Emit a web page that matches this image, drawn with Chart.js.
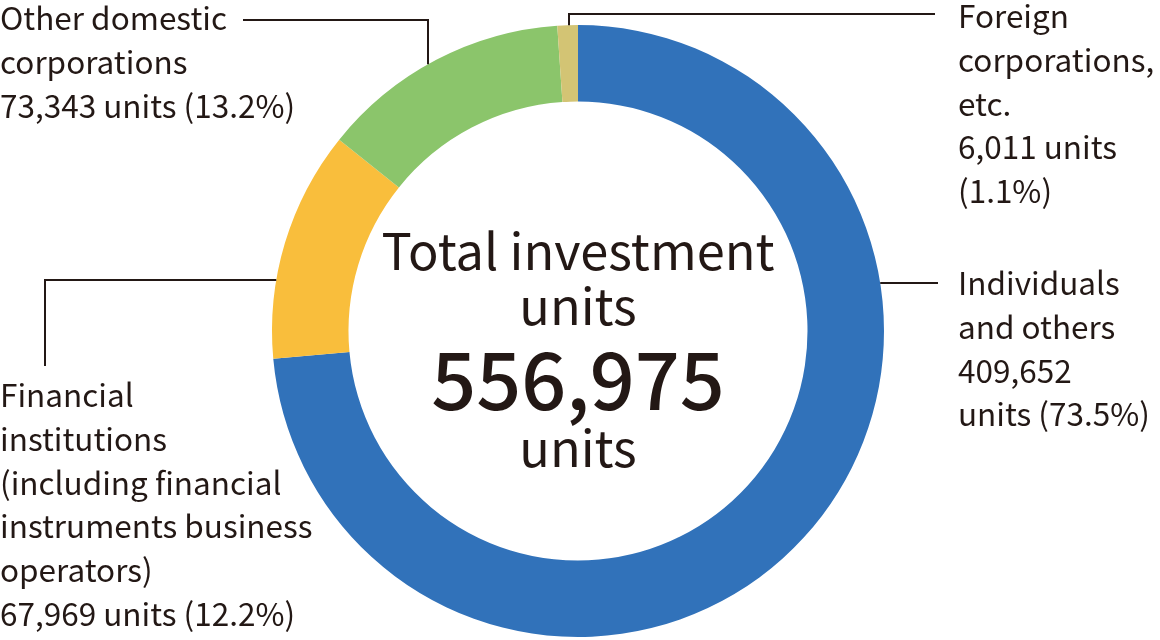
<!DOCTYPE html>
<html>
<head>
<meta charset="utf-8">
<script src="https://cdn.jsdelivr.net/npm/chart.js@4.4.1/dist/chart.umd.min.js"></script>
<style>
  html, body { margin: 0; padding: 0; background: #fff; }
  #chart { display: block; }
</style>
</head>
<body>
<canvas id="chart" width="1160" height="640"></canvas>
<script>
// unitholder breakdown, clockwise from 12 o'clock
const categories = ['Individuals and others', 'Financial institutions', 'Other domestic corporations', 'Foreign corporations, etc.'];
const units = [409652, 67969, 73343, 6011];
const shares = [73.5, 12.2, 13.2, 1.1];
const colors = ['#3172ba', '#f9be3c', '#8bc56b', '#d3c474'];

const total = units.reduce((a, b) => a + b, 0);
const fmt = n => n.toLocaleString('en-US');

const TEXT = '#231815';
const FONT = '"Noto Sans CJK JP", "Noto Sans", sans-serif';

// label blocks: text lines + where the text sits
const labels = [
  { lines: ['Individuals', 'and others', fmt(units[0]), 'units (' + shares[0] + '%)'], x: 958, y: 295 },
  { lines: ['Financial', 'institutions', '(including financial', 'instruments business', 'operators)', fmt(units[1]) + ' units (' + shares[1] + '%)'], x: 0, y: 407 },
  { lines: ['Other domestic', 'corporations', fmt(units[2]) + ' units (' + shares[2] + '%)'], x: 0, y: 30 },
  { lines: ['Foreign', 'corporations,', 'etc.', fmt(units[3]) + ' units', '(' + shares[3] + '%)'], x: 958, y: 28 }
];
const lineH = 43.8;

const annotations = {
  id: 'annotations',
  afterDraw(chart) {
    const c = chart.ctx;
    const arc = chart.getDatasetMeta(0).data[0];
    const cx = arc.x, cy = arc.y, R = arc.outerRadius;
    const edgeX = (y, side) => cx + side * Math.sqrt(R * R - (y - cy) * (y - cy));
    const edgeY = x => cy - Math.sqrt(R * R - (x - cx) * (x - cx));

    c.save();
    // leader lines
    c.strokeStyle = TEXT;
    c.lineWidth = 2;
    c.beginPath();
    // individuals
    c.moveTo(edgeX(283, 1), 283); c.lineTo(938, 283);
    // financial
    c.moveTo(edgeX(280, -1), 280); c.lineTo(45, 280); c.lineTo(45, 366);
    // other domestic
    c.moveTo(243, 20); c.lineTo(428, 20); c.lineTo(428, edgeY(428));
    // foreign
    c.moveTo(569, edgeY(569)); c.lineTo(569, 14); c.lineTo(935, 14);
    c.stroke();

    // label text
    c.fillStyle = TEXT;
    c.textAlign = 'left';
    c.textBaseline = 'alphabetic';
    c.font = '31.5px ' + FONT;
    labels.forEach(l => {
      l.lines.forEach((t, i) => c.fillText(t, l.x, l.y + i * lineH));
    });

    // centre text
    c.textAlign = 'center';
    c.font = '50.5px ' + FONT;
    c.fillText('Total investment', cx, 270);
    c.fillText('units', cx, 325);
    c.fillText('units', cx, 467);
    c.font = '500 79px ' + FONT;
    c.fillText(fmt(total), cx, 410);
    c.restore();
  }
};

new Chart(document.getElementById('chart').getContext('2d'), {
  type: 'doughnut',
  data: {
    labels: categories,
    datasets: [{
      data: units,
      backgroundColor: colors,
      borderWidth: 0,
      hoverOffset: 0
    }]
  },
  options: {
    responsive: false,
    animation: false,
    cutout: '75%',
    rotation: 0,
    layout: {
      padding: { top: 25, bottom: 3, left: 272, right: 276 }
    },
    plugins: {
      legend: { display: false },
      tooltip: { enabled: false }
    }
  },
  plugins: [annotations]
});
</script>
</body>
</html>
